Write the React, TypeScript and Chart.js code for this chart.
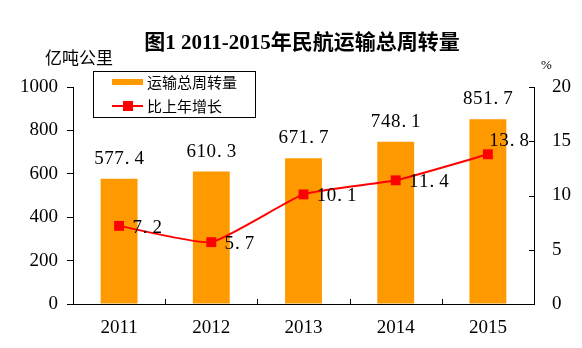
import React, { useEffect, useRef } from "react";
import { Chart, registerables } from "chart.js";

Chart.register(...registerables);

const years = ["2011", "2012", "2013", "2014", "2015"];
const turnover = [577.4, 610.3, 671.7, 748.1, 851.7];
const growth = [7.2, 5.7, 10.1, 11.4, 13.8];
const leftRange = [0, 1000];
const leftStep = 200;
const rightRange = [0, 20];
const rightStep = 5;
const titleText = "图1 2011-2015年民航运输总周转量";
const leftUnit = "亿吨公里";
const rightUnit = "%";
const legendLabels = ["运输总周转量", "比上年增长"];

const ORANGE = "#FF9900";
const RED = "#FF0000";
const SERIF = '"Liberation Serif", "Times New Roman", serif';
const CJK = '"Noto Sans CJK SC", sans-serif';
const TITLE_FONT = 'bold 21px "Liberation Serif", "Noto Sans CJK SC", serif';

function drawMono(ctx: CanvasRenderingContext2D, text: string, x: number, y: number, align: "left" | "center", size: number) {
  const adv = size * 0.53;
  const total = adv * text.length;
  let start = align === "center" ? x - total / 2 : x;
  ctx.save();
  ctx.font = `${size}px ${SERIF}`;
  ctx.fillStyle = "#000";
  ctx.textAlign = "center";
  ctx.textBaseline = "middle";
  for (let i = 0; i < text.length; i++) {
    const ch = text[i];
    const cx = start + adv * i + adv / 2 - (ch === "." ? 2 : 0);
    ctx.fillText(ch, cx, y);
  }
  ctx.restore();
}

const decorPlugin = {
  id: "decor",
  afterDraw(chart: any) {
    const ctx: CanvasRenderingContext2D = chart.ctx;
    const area = chart.chartArea;
    const x = chart.scales.x;
    const y1 = chart.scales.y1;

    ctx.save();
    // title
    ctx.fillStyle = "#000";
    ctx.font = TITLE_FONT;
    ctx.textAlign = "center";
    ctx.textBaseline = "middle";
    ctx.fillText(titleText, 302, 44);

    // units
    ctx.font = `17px ${CJK}`;
    ctx.textAlign = "left";
    ctx.fillText(leftUnit, 45, 58);
    ctx.font = `13px ${SERIF}`;
    ctx.fillText(rightUnit, 541, 66);

    // legend
    ctx.strokeStyle = "#000";
    ctx.lineWidth = 1;
    ctx.strokeRect(93.5, 71.5, 162, 46);
    ctx.fillStyle = ORANGE;
    ctx.fillRect(112, 79, 31, 6);
    ctx.strokeStyle = RED;
    ctx.lineWidth = 2;
    ctx.beginPath();
    ctx.moveTo(112, 106);
    ctx.lineTo(143, 106);
    ctx.stroke();
    ctx.fillStyle = RED;
    ctx.fillRect(123, 101, 10, 10);
    ctx.fillStyle = "#000";
    ctx.font = `15px ${CJK}`;
    ctx.textBaseline = "middle";
    ctx.fillText(legendLabels[0], 147, 82);
    ctx.fillText(legendLabels[1], 147, 106);

    // right axis inside ticks
    ctx.strokeStyle = "#000";
    ctx.lineWidth = 1;
    for (let v = rightRange[0]; v <= rightRange[1]; v += rightStep) {
      const py = Math.round(y1.getPixelForValue(v)) + 0.5;
      ctx.beginPath();
      ctx.moveTo(area.right - 5, py);
      ctx.lineTo(area.right, py);
      ctx.stroke();
    }
    // x axis ticks between categories, pointing up
    for (let i = 0; i < years.length - 1; i++) {
      const px = Math.round((x.getPixelForValue(i) + x.getPixelForValue(i + 1)) / 2) + 0.5;
      ctx.beginPath();
      ctx.moveTo(px, area.bottom);
      ctx.lineTo(px, area.bottom - 5);
      ctx.stroke();
    }
    ctx.restore();

    // bar labels
    const barMeta = chart.getDatasetMeta(0);
    barMeta.data.forEach((el: any, i: number) => {
      drawMono(ctx, turnover[i].toFixed(1), el.x, el.y - 20, "center", 19);
    });
    // line labels
    const lineMeta = chart.getDatasetMeta(1);
    lineMeta.data.forEach((el: any, i: number) => {
      const last = i === growth.length - 1;
      const lx = last ? el.x + 1 : el.x + 13;
      const ly = last ? el.y - 13 : el.y + 2;
      drawMono(ctx, growth[i].toFixed(1), lx, ly, "left", 19);
    });
  },
};

export default function App() {
  const ref = useRef<HTMLCanvasElement>(null);
  useEffect(() => {
    if (!ref.current) return;
    const chart = new Chart(ref.current, {
      type: "bar",
      data: {
        labels: years,
        datasets: [
          {
            type: "bar",
            label: legendLabels[0],
            data: turnover,
            backgroundColor: ORANGE,
            borderWidth: 0,
            barPercentage: 0.4,
            categoryPercentage: 1,
            yAxisID: "y",
            order: 1,
          },
          {
            type: "line",
            label: legendLabels[1],
            data: growth,
            borderColor: RED,
            borderWidth: 2,
            backgroundColor: RED,
            pointStyle: "rect",
            pointRadius: 7,
            pointBorderWidth: 0,
            pointBackgroundColor: RED,
            tension: 0.15,
            yAxisID: "y1",
            order: 0,
          },
        ],
      },
      options: {
        responsive: false,
        maintainAspectRatio: false,
        animation: false,
        layout: { padding: { top: 87, left: 0, right: 0, bottom: 0 } },
        plugins: { legend: { display: false }, tooltip: { enabled: false }, title: { display: false } },
        scales: {
          x: {
            type: "category",
            offset: true,
            grid: { display: false, drawTicks: false },
            border: { display: true, color: "#000", width: 1 },
            ticks: { color: "#000", font: { family: SERIF, size: 19 }, padding: 13 },
            afterFit: (s: any) => { s.height = 44; },
          },
          y: {
            position: "left",
            min: leftRange[0],
            max: leftRange[1],
            ticks: { stepSize: leftStep, color: "#000", font: { family: SERIF, size: 19 }, padding: 9, callback: (v: any) => String(v) },
            grid: { display: true, drawOnChartArea: false, drawTicks: true, tickLength: 6, color: "#000" },
            border: { display: true, color: "#000", width: 1 },
            afterFit: (s: any) => { s.width = 73; },
          },
          y1: {
            position: "right",
            min: rightRange[0],
            max: rightRange[1],
            ticks: { stepSize: rightStep, color: "#000", font: { family: SERIF, size: 19 }, padding: 18, callback: (v: any) => String(v) },
            grid: { display: false, drawTicks: false },
            border: { display: true, color: "#000", width: 1 },
            afterFit: (s: any) => { s.width = 48; },
          },
        },
      },
      plugins: [decorPlugin],
    } as any);
    return () => chart.destroy();
  }, []);
  return (
    <div style={{ position: "absolute", left: 0, top: 0, width: 582, height: 348, background: "#fff" }}>
      <canvas ref={ref} width={582} height={348} style={{ display: "block" }} />
    </div>
  );
}
